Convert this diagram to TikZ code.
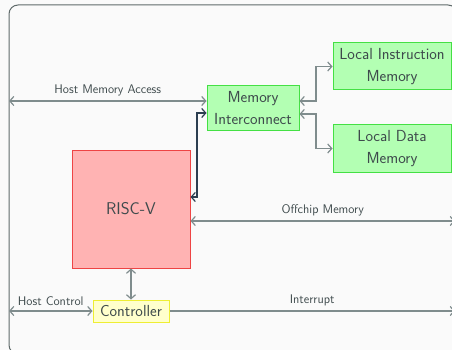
\documentclass[tikz,border=0pt]{standalone}
\usepackage{xcolor}
\usepackage{tikz}
\usetikzlibrary{positioning,arrows.meta,calc}

\definecolor{bgcol}{HTML}{FAFAFA}
\definecolor{framecol}{HTML}{5F6A6A}
\definecolor{txtcol}{HTML}{3E4A4C}
\definecolor{linecol}{HTML}{7F8C8D}
\definecolor{darkline}{HTML}{2C3E50}
\definecolor{memfill}{HTML}{B3FFB3}
\definecolor{memdraw}{HTML}{44E044}
\definecolor{cpufill}{HTML}{FFB3B3}
\definecolor{cpudraw}{HTML}{EE4444}
\definecolor{ctrlfill}{HTML}{FFFFCC}
\definecolor{ctrldraw}{HTML}{EEEE33}

\begin{document}
\begin{tikzpicture}[x=1pt, y=-1pt,
  font=\sffamily, text=txtcol,
  block/.style={rectangle, draw, line width=1pt, align=center, inner sep=0pt,
    font=\sffamily\fontsize{16}{22}\selectfont},
  mem/.style={block, fill=memfill, draw=memdraw},
  wire/.style={line width=1.2pt, draw=linecol},
  link/.style={wire, {Straight Barb[length=4pt,width=9pt]}-{Straight Barb[length=4pt,width=9pt]}},
  onelink/.style={wire, -{Straight Barb[length=4pt,width=9pt]}},
  lbl/.style={font=\sffamily\fontsize{12.5}{14}\selectfont, text=txtcol}
]
  % canvas
  \useasboundingbox (0,0) rectangle (452,350);
  \clip (0,0) rectangle (452,350);
  \fill[bgcol] (0,0) rectangle (452,350);
  \draw[framecol, line width=1pt, rounded corners=9pt] (9,5) rectangle (457,354);

  % blocks
  \node[mem, minimum width=92pt, minimum height=44pt] (icon) at (253,108) {Memory\\Interconnect};
  \node[mem, minimum width=118pt, minimum height=47pt] (imem) at (392,66.5) {Local Instruction\\Memory};
  \node[mem, minimum width=118pt, minimum height=47pt] (dmem) at (392,148.5) {Local Data\\Memory};
  \node[block, fill=cpufill, draw=cpudraw, minimum width=118pt, minimum height=118pt,
    font=\sffamily\fontsize{17}{20}\selectfont] (cpu) at (131,209) {RISC-V};
  \node[block, fill=ctrlfill, draw=ctrldraw, minimum width=76pt, minimum height=22pt] (ctrl) at (131,311) {Controller};

  % outside ends
  \coordinate (hostmem) at (9,101);
  \coordinate (hostctl) at (9,311);
  \coordinate (offchip) at (455,221);
  \coordinate (irq) at (455,311);

  % connections
  \draw[link] (hostmem) -- node[lbl, above=1pt] {Host Memory Access} (hostmem -| icon.west);
  \draw[link, draw=darkline] (cpu.east |- 0,197) -- (197,197) -- (197,113) -- (icon.west |- 0,113);
  \draw[link] (icon.east |- 0,101) -- (316,101) -- (316,66.5) -- (imem.west);
  \draw[link] (icon.east |- 0,114) -- (316,114) -- (316,148.5) -- (dmem.west);
  \draw[link] (cpu.east |- offchip) -- node[lbl, above=1pt] {Offchip Memory} (offchip);
  \draw[link] (cpu) -- (ctrl);
  \draw[link] (hostctl) -- node[lbl, above=1pt] {Host Control} (ctrl.west);
  \draw[onelink] (ctrl.east) -- node[lbl, above=1pt] {Interrupt} (irq);
\end{tikzpicture}
\end{document}
